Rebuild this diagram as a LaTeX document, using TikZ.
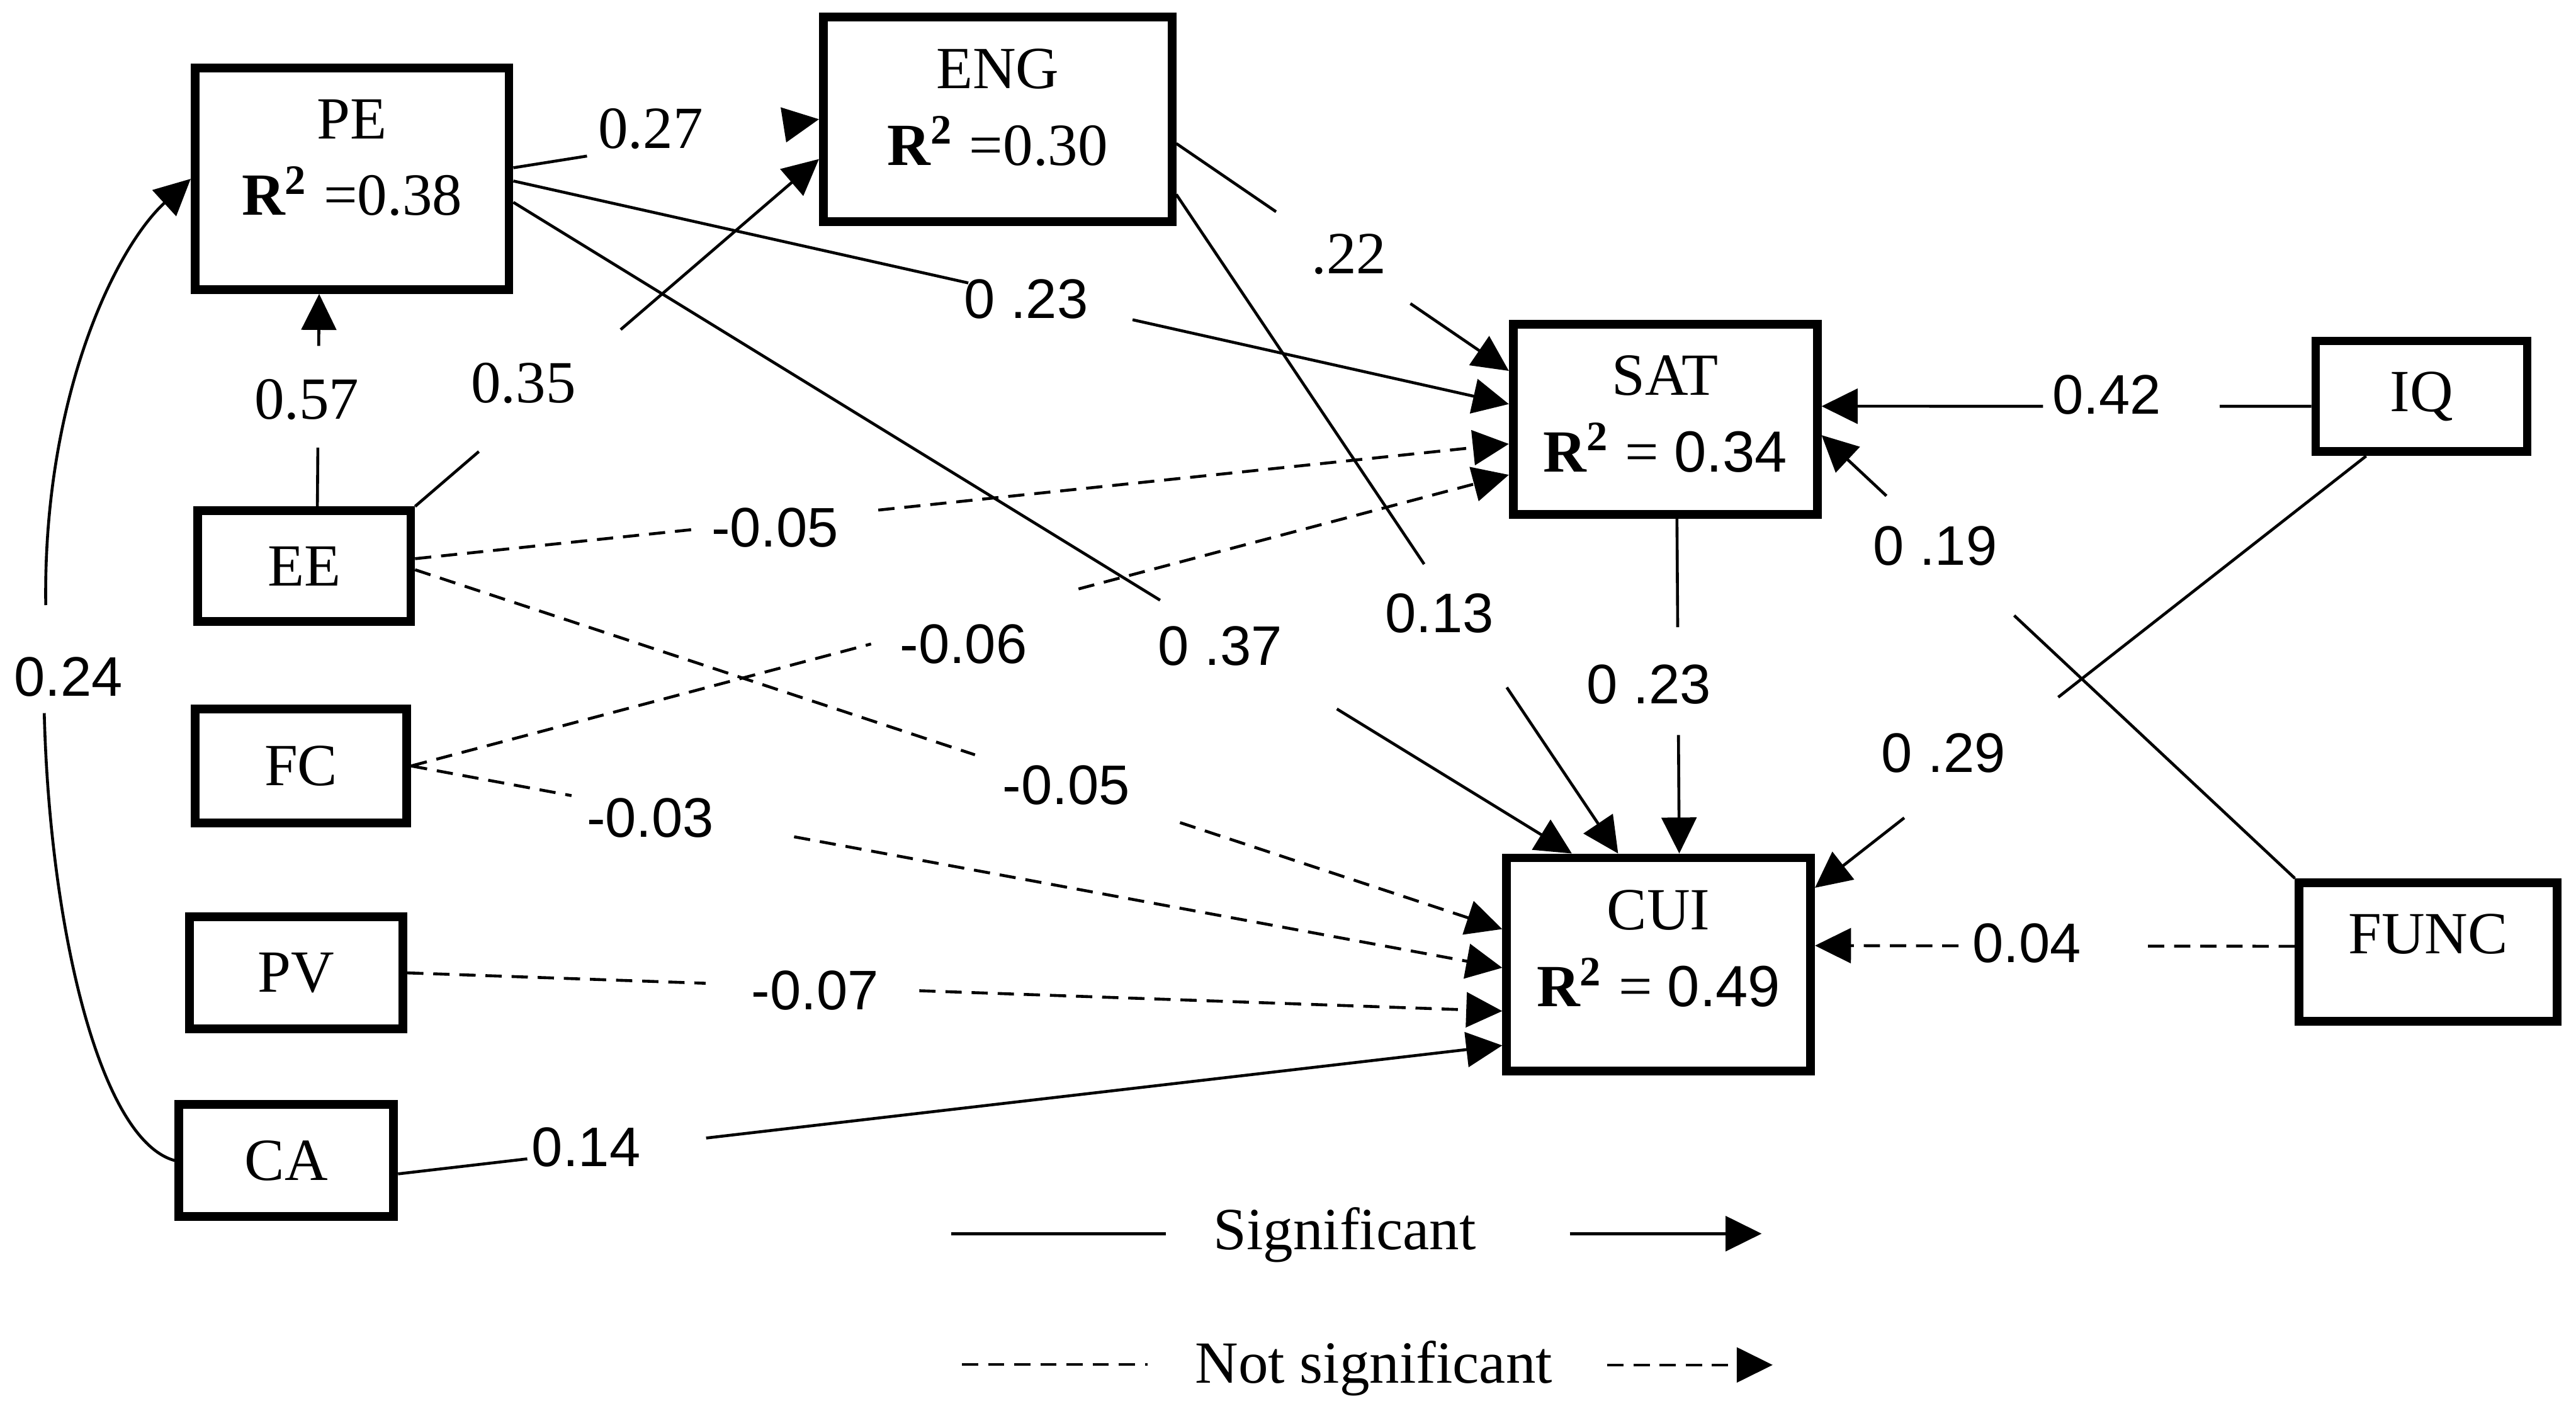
\documentclass[tikz,border=0pt]{standalone}
\usepackage{fontspec}
\setmainfont{Liberation Serif}
\setsansfont{Liberation Sans}
\usetikzlibrary{arrows.meta}
\usetikzlibrary{calc}
\tikzset{
    var/.style = {draw,line width=1.5pt,inner sep=0,align=center,font=\fontsize{10.3}{13.2}\selectfont},
    sig/.style = {line width=0.5pt},
    nsig/.style = {line width=0.5pt,dash pattern=on 2.8pt off 1.7pt},
    arr/.style = {-{Triangle[length=6.2pt,width=6pt]}},
    coef/.style = {inner sep=0,font=\fontsize{10.3}{12}\selectfont},
    coefsf/.style = {inner sep=0,font=\sffamily\fontsize{9.6}{12}\selectfont},
    legtext/.style = {inner sep=0,anchor=base,font=\fontsize{10.3}{12}\selectfont}
}
\newcommand{\rsq}{\textbf{R\textsuperscript{2}}}
\newcommand{\sfnum}[1]{{\sffamily\fontsize{10}{13.2}\selectfont #1}}

\begin{document}
\begin{tikzpicture}[x=0.01cm,y=-0.01cm]
        \useasboundingbox (0,0) rectangle (1560.1,851.3);
        % Constructs
        \node[var,minimum width=1.90cm,minimum height=1.34cm,text depth=0.261cm] (PE) at (213.2,108.3) {PE\\\rsq{} =0.38};
        \node[var,minimum width=2.11cm,minimum height=1.24cm,text depth=0.149cm] (ENG) at (604.2,72.2) {ENG\\\rsq{} =0.30};
        \node[var,minimum width=1.84cm,minimum height=1.15cm,text depth=0.069cm] (SAT) at (1008.5,254) {SAT\\\rsq{} = \sfnum{0.34}};
        \node[var,minimum width=1.84cm,minimum height=1.29cm,text depth=0.195cm] (CUI) at (1004.5,584) {CUI\\\rsq{} = \sfnum{0.49}};
        \node[var,minimum width=1.28cm,minimum height=0.67cm] (IQ) at (1466.5,240) {IQ};
        \node[var,minimum width=1.56cm,minimum height=0.84cm,text depth=0.221cm] (FUNC) at (1470.5,576.5) {FUNC};
        \node[var,minimum width=1.29cm,minimum height=0.67cm] (EE) at (184.2,342.8) {EE};
        \node[var,minimum width=1.28cm,minimum height=0.69cm] (FC) at (182.3,463.8) {FC};
        \node[var,minimum width=1.29cm,minimum height=0.68cm] (PV) at (179.4,589.1) {PV};
        \node[var,minimum width=1.30cm,minimum height=0.68cm] (CA) at (173.4,702.7) {CA};
        % Ports
        \coordinate (ee-n) at ([xshift=0.08cm]EE.north);
        \coordinate (ee-ne) at (EE.north east);
        \coordinate (ee-e1) at ([yshift=0.045cm]EE.east);
        \coordinate (ee-e2) at ([yshift=-0.022cm]EE.east);
        \coordinate (fc-e) at (FC.east);
        \coordinate (pv-e) at (PV.east);
        \coordinate (ca-e) at ([yshift=-0.081cm]CA.east);
        \coordinate (pe-e1) at ([yshift=0.067cm]PE.east);
        \coordinate (pe-e2) at ([yshift=-0.013cm]PE.east);
        \coordinate (pe-e3) at ([yshift=-0.142cm]PE.east);
        \coordinate (pe-s) at ([xshift=-0.199cm]PE.south);
        \coordinate (eng-e1) at ([yshift=-0.147cm]ENG.east);
        \coordinate (eng-e2) at ([yshift=-0.455cm]ENG.east);
        \coordinate (eng-w1) at (ENG.west);
        \coordinate (eng-w2) at ([yshift=-0.241cm]ENG.west);
        \coordinate (sat-s) at ([xshift=0.071cm]SAT.south);
        \coordinate (sat-w1) at ([yshift=0.294cm]SAT.west);
        \coordinate (sat-w2) at ([yshift=0.093cm]SAT.west);
        \coordinate (sat-w3) at ([yshift=-0.148cm]SAT.west);
        \coordinate (sat-w4) at ([yshift=-0.335cm]SAT.west);
        \coordinate (sat-e1) at ([yshift=0.08cm]SAT.east);
        \coordinate (sat-e2) at ([yshift=-0.095cm]SAT.east);
        \coordinate (cui-n1) at ([xshift=-0.525cm]CUI.north);
        \coordinate (cui-n2) at ([xshift=-0.245cm]CUI.north);
        \coordinate (cui-n3) at ([xshift=0.125cm]CUI.north);
        \coordinate (cui-w1) at ([yshift=0.214cm]CUI.west);
        \coordinate (cui-w2) at ([yshift=-0.02cm]CUI.west);
        \coordinate (cui-w3) at ([yshift=-0.282cm]CUI.west);
        \coordinate (cui-w4) at ([yshift=-0.49cm]CUI.west);
        \coordinate (cui-e1) at ([yshift=0.464cm]CUI.east);
        \coordinate (cui-e2) at ([yshift=0.114cm]CUI.east);
        \coordinate (iq-w) at ([yshift=-0.06cm]IQ.west);
        \coordinate (iq-s) at ([xshift=-0.335cm]IQ.south);
        \coordinate (func-nw) at (FUNC.north west);
        \coordinate (func-w) at ([yshift=0.035cm]FUNC.west);
        % Coefficients
        \node[coef] (c057) at (185.8,242) {0.57};
        \node[coef] (c035) at (317,232) {0.35};
        \node[coef] (c027) at (394,78) {0.27};
        \node[coef] (c022) at (817,153.8) {.22};
        \node[coefsf] (c023a) at (621.4,181.3) {0 .23};
        \node[coefsf] (c037) at (739,391) {0 .37};
        \node[coefsf] (c013) at (871.7,371.2) {0.13};
        \node[coefsf] (c005a) at (469.3,319.6) {-0.05};
        \node[coefsf] (c006) at (583.5,389.9) {-0.06};
        \node[coefsf] (c005b) at (645.7,475.4) {-0.05};
        \node[coefsf] (c003) at (393.9,495.1) {-0.03};
        \node[coefsf] (c007) at (493.6,599.7) {-0.07};
        \node[coefsf] (c014) at (355,694.8) {0.14};
        \node[coefsf] (c024) at (41.5,410) {0.24};
        \node[coefsf] (c023b) at (998.6,414.4) {0 .23};
        \node[coefsf] (c042) at (1276,239) {0.42};
        \node[coefsf] (c019) at (1172,330.6) {0 .19};
        \node[coefsf] (c029) at (1177,456) {0 .29};
        \node[coefsf] (c004) at (1227.6,571) {0.04};
        % Paths
        \foreach \src/\dest/\a/\b/\kind in {
            ee-n/pe-s/0.277/0.755/sig,
            ee-ne/eng-w2/0.158/0.509/sig,
            pe-e1/eng-w1/0.241/0.893/sig,
            pe-e2/sat-w2/0.457/0.622/sig,
            pe-e3/cui-n1/0.611/0.778/sig,
            eng-e1/sat-w1/0.3/0.704/sig,
            eng-e2/cui-n2/0.561/0.748/sig,
            ee-e1/sat-w3/0.254/0.4235/nsig,
            fc-e/sat-w4/0.419/0.608/nsig,
            ee-e2/cui-w1/0.515/0.7036/nsig,
            fc-e/cui-w2/0.147/0.351/nsig,
            pv-e/cui-w3/0.2726/0.4677/nsig,
            ca-e/cui-w4/0.117/0.279/sig,
            sat-s/cui-n3/0.324/0.646/sig,
            iq-w/sat-e1/0.187/0.548/sig,
            func-nw/sat-e2/0.593/0.863/sig,
            iq-s/cui-e1/0.5586/0.838/sig,
            func-w/cui-e2/0.3175/0.701/nsig}
        {
            \draw[\kind] (\src) -- ($(\src)!\a!(\dest)$);
            \draw[\kind,arr] ($(\src)!\b!(\dest)$) -- (\dest);
        }
        % Covariance CA - PE
        \coordinate (ca-lo) at (26.8,431.8);
        \coordinate (ca-hi) at (27.7,366.4);
        \draw[sig] (CA.west) .. controls (60,690) and (30,560) .. (ca-lo);
        \draw[sig,arr] (ca-hi) .. controls (26,240) and (70,150) .. (PE.west);
        % Legend
        \coordinate (ls1) at (576,747);
        \coordinate (ls2) at (706,747);
        \coordinate (la1) at (950.7,747);
        \coordinate (la2) at (1066.9,747);
        \coordinate (ln1) at (582.6,826.2);
        \coordinate (ln2) at (695,826.2);
        \coordinate (lb1) at (973.5,826.5);
        \coordinate (lb2) at (1073.6,826.5);
        \node[legtext] (lsig) at (814.4,756.8) {Significant};
        \node[legtext] (lnsig) at (832,837.6) {Not significant};
        \draw[sig] (ls1) -- (ls2);
        \draw[sig,arr] (la1) -- (la2);
        \draw[nsig] (ln1) -- (ln2);
        \draw[nsig,arr] (lb1) -- (lb2);
    \end{tikzpicture}
\end{document}
